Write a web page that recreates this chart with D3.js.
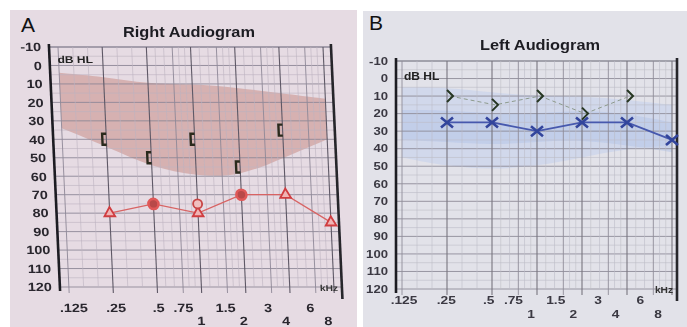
<!DOCTYPE html>
<html>
<head>
<meta charset="utf-8">
<script src="https://cdn.jsdelivr.net/npm/d3@7"></script>
<style>
  body { margin: 0; background: #fff; }
  svg { display: block; font-family: "Liberation Sans", Arial, sans-serif; }
</style>
</head>
<body>
<script>
const freqs = [125, 250, 500, 750, 1000, 1500, 2000, 3000, 4000, 6000, 8000];
const mainFreqs = [250, 500, 1000, 2000, 4000, 8000];
const freqLabels = ['.125', '.25', '.5', '.75', '1', '1.5', '2', '3', '4', '6', '8'];
const labelRow = [0, 0, 0, 0, 1, 0, 1, 0, 1, 0, 1];
const dbTicks = d3.range(-10, 121, 10);

// right ear (A)
const rightAcFreq = [250, 500, 1000, 2000, 4000, 8000];
const rightAcDb = [80, 75, 80, 70, 70, 85];
const rightAcSym = ['tri', 'circle', 'tri', 'circle', 'tri', 'tri'];
const rightExtraFreq = [1000];
const rightExtraDb = [75];
const rightBcFreq = [250, 500, 1000, 2000, 4000];
const rightBcDb = [40, 50, 40, 55, 35];
const bandFreq = [125, 250, 500, 1000, 2000, 4000, 8000];
const rightBandTop = [4, 6, 10, 10, 12, 15, 18];
const rightBandBottom = [34, 44, 55, 60, 60, 50, 40];

// left ear (B)
const leftAcFreq = [250, 500, 1000, 2000, 4000, 8000];
const leftAcDb = [25, 25, 30, 25, 25, 35];
const leftBcFreq = [250, 500, 1000, 2000, 4000];
const leftBcDb = [10, 15, 10, 20, 10];
const leftBandTop = [5, 5, 8, 10, 10, 12, 15];
const leftBandBottom = [45, 50, 52, 50, 45, 40, 38];
const leftCoreTop = [18, 18, 20, 20, 18, 20, 25];
const leftCoreBottom = [35, 36, 38, 36, 35, 38, 42];

const W = 687, H = 327;
const svg = d3.select('body').append('svg').attr('width', W).attr('height', H);

const defs = svg.append('defs');
defs.append('filter').attr('id', 'soft').append('feGaussianBlur').attr('stdDeviation', 0.55);

function drawPanel(c) {
  svg.append('rect').attr('x', c.px).attr('y', c.py).attr('width', c.pw).attr('height', H - c.py).attr('fill', c.bg);

  const g = svg.append('g').attr('filter', 'url(#soft)');
  const p = g.append('g').attr('transform', 'translate(0,' + c.y0 + ') skewX(' + c.skew + ') translate(0,' + (-c.y0) + ')');

  const x = d3.scaleLog().domain([125, 8000]).range([c.fLo, c.fHi]);
  const xl = d3.scaleLog().domain([125, 8000]).range([c.lLo, c.lHi]);
  const y = d3.scaleLinear().domain([-10, 120]).range([c.y0, c.y1]);

  // band(s)
  c.bands.forEach(function(b) {
    const area = d3.area()
      .x(function(d, i) { return x(bandFreq[i]); })
      .y0(function(d, i) { return y(b.top[i]); })
      .y1(function(d, i) { return y(b.bottom[i]); })
      .curve(d3.curveBasis);
    p.append('path').attr('d', area(bandFreq)).attr('fill', b.color).attr('opacity', b.opacity);
  });

  // fine grid
  d3.range(-10, 121, 5).forEach(function(v) {
    p.append('line').attr('x1', c.x0).attr('x2', c.x1).attr('y1', y(v)).attr('y2', y(v))
      .attr('stroke', v % 10 === 0 ? c.gridMajor : c.gridMinor)
      .attr('stroke-width', v === -10 ? 1.6 : (v % 10 === 0 ? 0.9 : 0.6));
  });
  for (let i = 0; i < freqs.length - 1; i++) {
    const a = Math.log(freqs[i]), b = Math.log(freqs[i + 1]);
    [1 / 3, 2 / 3].forEach(function(t) {
      const f = Math.exp(a + (b - a) * t);
      p.append('line').attr('x1', x(f)).attr('x2', x(f)).attr('y1', c.y0).attr('y2', c.y1)
        .attr('stroke', c.gridMinor).attr('stroke-width', 0.6);
    });
  }
  freqs.forEach(function(f) {
    const main = mainFreqs.indexOf(f) >= 0;
    p.append('line').attr('x1', x(f)).attr('x2', x(f)).attr('y1', c.y0).attr('y2', c.y1 + 6)
      .attr('stroke', main ? c.gridFreq : c.gridMajor).attr('stroke-width', main ? 1.1 : 0.9);
  });

  // frame
  p.append('line').attr('x1', c.x0).attr('x2', c.x0).attr('y1', c.y0 - 3).attr('y2', c.y1 + 4)
    .attr('stroke', '#1c1b22').attr('stroke-width', 2.6);
  p.append('line').attr('x1', c.x1).attr('x2', c.x1).attr('y1', c.y0 - 3).attr('y2', c.y1 + 12)
    .attr('stroke', '#26252c').attr('stroke-width', 2.6);

  // y labels
  dbTicks.forEach(function(v) {
    p.append('text').attr('transform', 'translate(' + (c.x0 - 8) + ',' + (y(v) + c.yFont * 0.36) + ') scale(' + c.stretch + ',1)')
      .attr('text-anchor', 'end').attr('font-size', c.yFont).attr('font-weight', 'bold')
      .attr('fill', c.textColor).text(v);
  });

  // x labels
  freqs.forEach(function(f, i) {
    p.append('text').attr('transform', 'translate(' + xl(f) + ',' + (labelRow[i] ? c.row2 : c.row1) + ') scale(' + c.stretch + ',1)')
      .attr('text-anchor', 'middle').attr('font-size', c.xFont).attr('font-weight', 'bold')
      .attr('fill', c.textColor).text(freqLabels[i]);
  });

  p.append('text').attr('transform', 'translate(' + (c.x0 + 8) + ',' + c.dbY + ') scale(1.2,1)')
    .attr('font-size', 10).attr('font-weight', 'bold').attr('fill', '#222').text('dB HL');
  p.append('text').attr('transform', 'translate(' + (c.x1 - 4) + ',' + (c.y1 + 4) + ') scale(1.2,1)')
    .attr('text-anchor', 'end').attr('font-size', 8.5).attr('font-weight', 'bold').attr('fill', '#333').text('kHz');

  svg.append('text').attr('x', c.titleX).attr('y', c.titleY).attr('text-anchor', 'middle')
    .attr('font-size', 14).attr('font-weight', 'bold').attr('fill', '#1e1d24')
    .attr('textLength', c.titleW).attr('lengthAdjust', 'spacingAndGlyphs')
    .attr('filter', 'url(#soft)').text(c.title);

  svg.append('text').attr('x', c.letterX).attr('y', c.letterY).attr('font-size', 21)
    .attr('fill', '#111').text(c.letter);

  return { p: p, x: x, y: y };
}

// ---- A: right audiogram
const A = drawPanel({
  px: 10, py: 10, pw: 347, bg: '#e6dbe3', skew: 2.6,
  x0: 49, x1: 331, y0: 47, y1: 287, fLo: 58, fHi: 323, lLo: 62, lHi: 316,
  row1: 312, row2: 325, yFont: 12, xFont: 12, stretch: 1.2, textColor: '#2a282f',
  gridMajor: '#8f8898', gridMinor: '#bcb3c0', gridFreq: '#5e5966',
  bands: [{ top: rightBandTop, bottom: rightBandBottom, color: '#cc9490', opacity: 0.6 }],
  dbY: 63, title: 'Right Audiogram', titleX: 189, titleY: 37, titleW: 132,
  letter: 'A', letterX: 21, letterY: 32
});

const acLine = d3.line()
  .x(function(d, i) { return A.x(rightAcFreq[i]); })
  .y(function(d) { return A.y(d); });
A.p.append('path').attr('d', acLine(rightAcDb)).attr('fill', 'none')
  .attr('stroke', '#d86464').attr('stroke-width', 1.3);

const tri = d3.symbol().type(d3.symbolTriangle).size(50);
rightAcDb.forEach(function(d, i) {
  const cx = A.x(rightAcFreq[i]), cy = A.y(d);
  if (rightAcSym[i] === 'tri') {
    A.p.append('path').attr('d', tri()).attr('transform', 'translate(' + cx + ',' + cy + ')')
      .attr('fill', '#f0b4b4').attr('stroke', '#d03c40').attr('stroke-width', 1.8);
  } else {
    A.p.append('circle').attr('cx', cx).attr('cy', cy).attr('r', 5)
      .attr('fill', '#b84848').attr('stroke', '#e05858').attr('stroke-width', 2.6);
  }
});
rightExtraDb.forEach(function(d, i) {
  A.p.append('circle').attr('cx', A.x(rightExtraFreq[i])).attr('cy', A.y(d)).attr('r', 4.5)
    .attr('fill', '#f0c0c0').attr('stroke', '#c84444').attr('stroke-width', 1.8);
});
rightBcDb.forEach(function(d, i) {
  const cx = A.x(rightBcFreq[i]) - 4, cy = A.y(d);
  A.p.append('path').attr('d', 'M4,-5.5 L0,-5.5 L0,5.5 L4,5.5')
    .attr('transform', 'translate(' + cx + ',' + cy + ')')
    .attr('fill', 'none').attr('stroke', '#2a2a1e').attr('stroke-width', 2.4);
});

// ---- B: left audiogram
const B = drawPanel({
  px: 363, py: 11, pw: 324, bg: '#e2e2e9', skew: 0,
  x0: 396, x1: 677, y0: 61, y1: 289, fLo: 402, fHi: 672, lLo: 404, lHi: 658,
  row1: 304, row2: 318, yFont: 10.5, xFont: 11, stretch: 1.25, textColor: '#3a3942',
  gridMajor: '#8e8c99', gridMinor: '#bcbcc6', gridFreq: '#77757f',
  bands: [
    { top: leftBandTop, bottom: leftBandBottom, color: '#c8d3ec', opacity: 0.65 },
    { top: leftCoreTop, bottom: leftCoreBottom, color: '#afc0e6', opacity: 0.45 }
  ],
  dbY: 80, title: 'Left Audiogram', titleX: 540, titleY: 50, titleW: 120,
  letter: 'B', letterX: 369, letterY: 30
});

const bcLine = d3.line()
  .x(function(d, i) { return B.x(leftBcFreq[i]) + 3; })
  .y(function(d) { return B.y(d); });
B.p.append('path').attr('d', bcLine(leftBcDb)).attr('fill', 'none')
  .attr('stroke', '#8d9a8c').attr('stroke-width', 1).attr('stroke-dasharray', '4,3');

const xLine = d3.line()
  .x(function(d, i) { return B.x(leftAcFreq[i]); })
  .y(function(d) { return B.y(d); });
B.p.append('path').attr('d', xLine(leftAcDb)).attr('fill', 'none')
  .attr('stroke', '#4658ad').attr('stroke-width', 1.8);

leftAcDb.forEach(function(d, i) {
  B.p.append('path').attr('d', 'M-6,-5 L6,5 M-6,5 L6,-5')
    .attr('transform', 'translate(' + B.x(leftAcFreq[i]) + ',' + B.y(d) + ')')
    .attr('stroke', '#33449c').attr('stroke-width', 2.6);
});
leftBcDb.forEach(function(d, i) {
  B.p.append('path').attr('d', 'M-3,-6 L3,0 L-3,6')
    .attr('transform', 'translate(' + (B.x(leftBcFreq[i]) + 3) + ',' + B.y(d) + ')')
    .attr('fill', 'none').attr('stroke', '#263622').attr('stroke-width', 2);
});
</script>
</body>
</html>
